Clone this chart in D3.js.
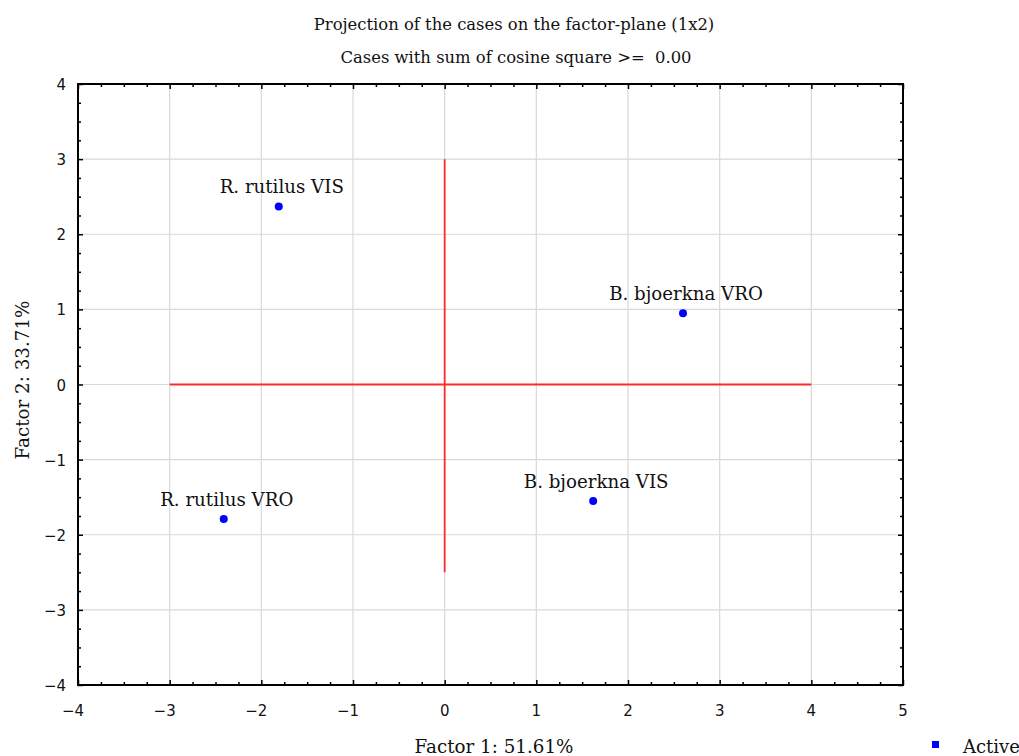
<!DOCTYPE html>
<html>
<head>
<meta charset="utf-8">
<script src="https://cdn.jsdelivr.net/npm/d3@7"></script>
<style>
  body { margin: 0; background: #fff; }
  text { fill: #111; white-space: pre; }
</style>
</head>
<body>
<div id="chart"></div>
<script>
// data
const caseNames = ["R. rutilus VIS", "B. bjoerkna VRO", "B. bjoerkna VIS", "R. rutilus VRO"];
const factor1 = [-1.81, 2.60, 1.62, -2.41];
const factor2 = [2.37, 0.95, -1.55, -1.79];
const xTicks = [-4, -3, -2, -1, 0, 1, 2, 3, 4, 5];
const yTicks = [-4, -3, -2, -1, 0, 1, 2, 3, 4];
const titleLines = ["Projection of the cases on the factor-plane (1x2)", "Cases with sum of cosine square >=  0.00"];
const xLabel = "Factor 1: 51.61%";
const yLabel = "Factor 2: 33.71%";
const legendLabel = "Active";

const W = 1019, H = 756;
const plot = { left: 78, top: 84, right: 903, bottom: 685 };
const serif = "'DejaVu Serif', serif";
const sans = "'DejaVu Sans', sans-serif";

const svg = d3.select("#chart")
    .append("svg")
    .attr("width", W)
    .attr("height", H);

const x = d3.scaleLinear().domain([-4, 5]).range([plot.left, plot.right]);
const y = d3.scaleLinear().domain([-4, 4]).range([plot.bottom, plot.top]);

// Gitterlinien
const grid = svg.append("g");
grid.selectAll(".gx")
    .data(xTicks.slice(1, -1))
    .enter().append("line")
    .attr("x1", d => x(d)).attr("x2", d => x(d))
    .attr("y1", plot.top).attr("y2", plot.bottom)
    .attr("stroke", "#d9d9d9").attr("stroke-width", 1.2);
grid.selectAll(".gy")
    .data(yTicks.slice(1, -1))
    .enter().append("line")
    .attr("x1", plot.left).attr("x2", plot.right)
    .attr("y1", d => y(d)).attr("y2", d => y(d))
    .attr("stroke", "#d9d9d9").attr("stroke-width", 1.2);

// rote Achsenkreuz-Linien
svg.append("line")
    .attr("x1", x(-3)).attr("x2", x(4))
    .attr("y1", y(0)).attr("y2", y(0))
    .attr("stroke", "#ff2a2a").attr("stroke-width", 1.8);
svg.append("line")
    .attr("x1", x(0)).attr("x2", x(0))
    .attr("y1", y(3)).attr("y2", y(-2.5))
    .attr("stroke", "#ff2a2a").attr("stroke-width", 1.8);

// Achsen (Ticks nach innen, auf allen vier Seiten)
const xMinor = d3.range(-4, 5.001, 0.25);
const yMinor = d3.range(-4, 4.001, 0.25);
const isMajor = v => Math.abs(v - Math.round(v)) < 1e-6;

const axisB = d3.axisBottom(x).tickValues(xMinor).tickSize(-3).tickFormat("");
const axisT = d3.axisTop(x).tickValues(xMinor).tickSize(-3).tickFormat("");
const axisL = d3.axisLeft(y).tickValues(yMinor).tickSize(-3).tickFormat("");
const axisR = d3.axisRight(y).tickValues(yMinor).tickSize(-3).tickFormat("");

[[axisB, `translate(0,${plot.bottom})`, "y2", -5],
 [axisT, `translate(0,${plot.top})`, "y2", 5],
 [axisL, `translate(${plot.left},0)`, "x2", 5],
 [axisR, `translate(${plot.right},0)`, "x2", -5]].forEach(([ax, tr, attr, len]) => {
    const g = svg.append("g").attr("transform", tr).call(ax);
    g.select(".domain").remove();
    g.selectAll(".tick line")
        .attr("stroke", "#000").attr("stroke-width", 1.5)
        .filter(d => isMajor(d)).attr(attr, len);
});

svg.append("rect")
    .attr("x", plot.left).attr("y", plot.top)
    .attr("width", plot.right - plot.left).attr("height", plot.bottom - plot.top)
    .attr("fill", "none").attr("stroke", "#000").attr("stroke-width", 2);

const fmt = d => (d < 0 ? "\u2212" + Math.abs(d) : String(d));

svg.append("g").selectAll("text")
    .data(xTicks)
    .enter().append("text")
    .attr("x", d => x(d) - (d < 0 ? 5 : 0))
    .attr("y", 716)
    .attr("text-anchor", "middle")
    .attr("font-family", sans).attr("font-size", "15px")
    .text(fmt);

svg.append("g").selectAll("text")
    .data(yTicks)
    .enter().append("text")
    .attr("x", 66)
    .attr("y", d => y(d) + 6)
    .attr("text-anchor", "end")
    .attr("font-family", sans).attr("font-size", "15px")
    .text(fmt);

// Titel
svg.append("text")
    .attr("x", 514).attr("y", 30)
    .attr("text-anchor", "middle")
    .attr("font-family", serif).attr("font-size", "16.4px")
    .text(titleLines[0]);
svg.append("text")
    .attr("x", 516).attr("y", 63)
    .attr("text-anchor", "middle")
    .attr("font-family", serif).attr("font-size", "16.4px")
    .text(titleLines[1]);

// Achsentitel
svg.append("text")
    .attr("x", 494).attr("y", 753)
    .attr("text-anchor", "middle")
    .attr("font-family", serif).attr("font-size", "18.3px")
    .text(xLabel);
svg.append("text")
    .attr("transform", "translate(29,380) rotate(-90)")
    .attr("text-anchor", "middle")
    .attr("font-family", serif).attr("font-size", "18.3px")
    .text(yLabel);

// Punkte und Beschriftungen
const cases = caseNames.map((name, i) => ({ name, f1: factor1[i], f2: factor2[i] }));
const pts = svg.append("g");
pts.selectAll("circle")
    .data(cases)
    .enter().append("circle")
    .attr("cx", d => x(d.f1))
    .attr("cy", d => y(d.f2))
    .attr("r", 4)
    .attr("fill", "#0000ff");
pts.selectAll("text")
    .data(cases)
    .enter().append("text")
    .attr("x", d => x(d.f1) + 3)
    .attr("y", d => y(d.f2) - 13)
    .attr("text-anchor", "middle")
    .attr("font-family", serif).attr("font-size", "18.2px")
    .text(d => d.name);

// Legende
svg.append("rect")
    .attr("x", 932).attr("y", 741)
    .attr("width", 7).attr("height", 7)
    .attr("fill", "#0000ff");
svg.append("text")
    .attr("x", 963).attr("y", 753)
    .attr("font-family", serif).attr("font-size", "18px")
    .text(legendLabel);
</script>
</body>
</html>
